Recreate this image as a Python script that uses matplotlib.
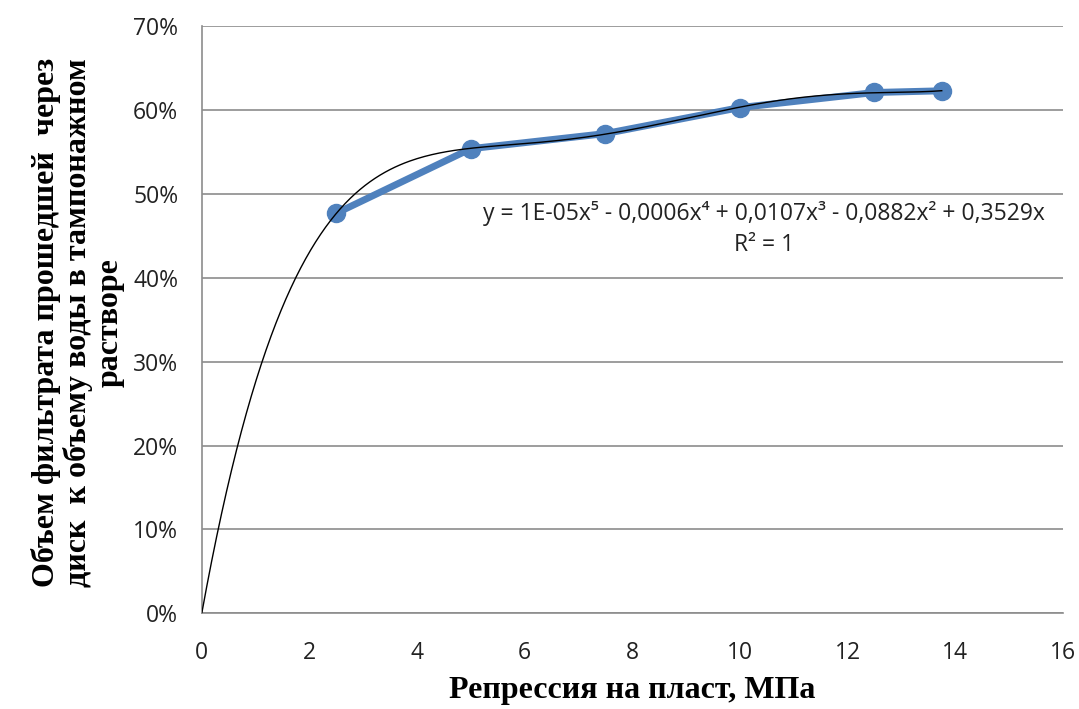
import numpy as np
import matplotlib
matplotlib.use("Agg")
import matplotlib.pyplot as plt
from matplotlib.ticker import PercentFormatter

# repression, MPa
pressure = [2.5, 5.0, 7.5, 10.0, 12.5, 13.75]
# filtrate volume / water volume
filtrate = [0.477, 0.554, 0.572, 0.603, 0.621, 0.623]

x_ticks = [0, 2, 4, 6, 8, 10, 12, 14, 16]
y_ticks = [0, 0.1, 0.2, 0.3, 0.4, 0.5, 0.6, 0.7]

equation = "y = 1E-05x⁵ - 0,0006x⁴ + 0,0107x³ - 0,0882x² + 0,3529x"
r_squared = "R² = 1"

tick_font = ["Open Sans", "DejaVu Sans"]
label_font = ["Liberation Serif", "DejaVu Serif"]


def fit_trend(xs, ys):
    # 5th order polynomial through the origin (like the Excel trendline)
    xs = np.asarray(xs)
    A = np.column_stack([xs ** k for k in range(1, 6)])
    coef, *_ = np.linalg.lstsq(A, np.asarray(ys), rcond=None)
    return coef


def main():
    fig = plt.figure(figsize=(10.79, 7.09), dpi=100)
    ax = fig.add_axes([0.187, 0.135, 0.798, 0.828])

    coef = fit_trend(pressure, filtrate)
    xt = np.linspace(0, pressure[-1], 300)
    yt = sum(c * xt ** (k + 1) for k, c in enumerate(coef))

    ax.plot(pressure, filtrate, color="#4F81BD", lw=5, marker="o",
            markersize=13, zorder=3)
    ax.plot(xt, yt, color="black", lw=1.0, zorder=4)

    ax.set_xlim(0, 16)
    ax.set_ylim(0, 0.7)
    ax.set_xticks(x_ticks)
    ax.set_yticks(y_ticks)
    ax.yaxis.set_major_formatter(PercentFormatter(1.0, decimals=0))
    ax.tick_params(length=0, labelsize=16.5, colors="#222222")
    ax.tick_params(axis="x", pad=20)
    ax.tick_params(axis="y", pad=17)
    for lbl in ax.get_xticklabels() + ax.get_yticklabels():
        lbl.set_family(tick_font)

    ax.grid(axis="y", color="#8c8c8c", lw=1.2)
    ax.set_axisbelow(True)
    for s in ["top", "right"]:
        ax.spines[s].set_visible(False)
    for s in ["left", "bottom"]:
        ax.spines[s].set_color("#8c8c8c")
        ax.spines[s].set_linewidth(1.2)

    ax.text(10.45, 0.477, equation, ha="center", va="center",
            fontsize=16.5, family=tick_font, color="#222222")
    ax.text(10.45, 0.439, r_squared, ha="center", va="center",
            fontsize=16.5, family=tick_font, color="#222222")

    ax.set_xlabel("Репрессия на пласт, МПа", family=label_font,
                  fontweight="bold", fontsize=23, labelpad=8)
    fig.text(0.072, 0.545,
             "Объем фильтрата прошедшей  через\n"
             "диск  к объему воды в тампонажном\n"
             "растворе",
             rotation=90, ha="center", va="center", multialignment="center",
             family=label_font, fontweight="bold", fontsize=23,
             linespacing=1.1)

    fig.savefig("out.png", dpi=100)


if __name__ == "__main__":
    main()
